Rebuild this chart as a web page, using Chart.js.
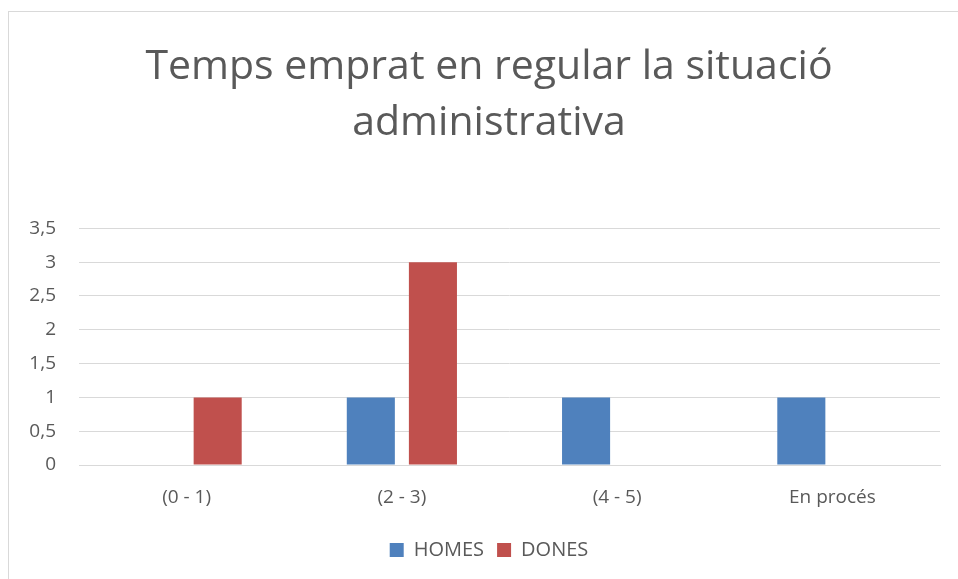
<!DOCTYPE html>
<html>
<head>
<meta charset="utf-8">
<script src="https://cdn.jsdelivr.net/npm/chart.js@4"></script>
<style>
  html, body { margin: 0; padding: 0; background: #fff; overflow: hidden; }
  #frame {
    position: absolute; left: 8px; top: 11px;
    width: 960px; height: 580px;
    border-left: 1px solid #d9d9d9; border-top: 1px solid #d9d9d9;
  }
  #frame canvas { display: block; }
</style>
</head>
<body>
<div id="frame"><canvas id="chart" width="960" height="568"></canvas></div>
<script>
// values
const categories = ['(0 - 1)', '(2 - 3)', '(4 - 5)', 'En procés'];
const homes = [0, 1, 1, 1];
const dones = [1, 3, 0, 0];
const titleLines = ['Temps emprat en regular la situació', 'administrativa'];

const textColor = '#595959';
const gridColor = '#d9d9d9';
const fontFamily = "'Open Sans', 'Noto Sans', sans-serif";

const ctx = document.getElementById('chart').getContext('2d');
new Chart(ctx, {
    type: 'bar',
    data: {
        labels: categories,
        datasets: [
            { label: 'HOMES', data: homes, backgroundColor: '#4F81BD' },
            { label: 'DONES', data: dones, backgroundColor: '#C0504D' }
        ]
    },
    options: {
        responsive: false,
        animation: false,
        categoryPercentage: 0.577,
        barPercentage: 0.774,
        layout: { padding: { left: 0, right: 0, top: 0, bottom: 10 } },
        plugins: {
            title: {
                display: true,
                text: titleLines,
                color: textColor,
                font: { family: fontFamily, size: 41, weight: 'normal', lineHeight: 1.37 },
                padding: { top: 27, bottom: 77 }
            },
            legend: {
                position: 'bottom',
                labels: {
                    color: textColor,
                    font: { family: fontFamily, size: 20 },
                    boxWidth: 14,
                    boxHeight: 14,
                    padding: 13
                }
            },
            tooltip: { enabled: false }
        },
        scales: {
            x: {
                grid: { display: false, drawTicks: false },
                border: { display: true, color: gridColor },
                ticks: { color: textColor, font: { family: fontFamily, size: 19 }, padding: 21 },
                afterFit: (scale) => { scale.height = 62; }
            },
            y: {
                min: 0,
                max: 3.5,
                grid: { color: gridColor, drawTicks: false },
                border: { display: false },
                ticks: {
                    stepSize: 0.5,
                    color: textColor,
                    font: { family: fontFamily, size: 19 },
                    padding: 23,
                    callback: (v) => String(v).replace('.', ',')
                },
                afterFit: (scale) => { scale.width = 70; }
            },
            // empty right-hand axis: keeps the plot off the right edge while the title stays centred on the frame
            y2: {
                position: 'right',
                display: true,
                grid: { display: false, drawTicks: false },
                border: { display: false },
                ticks: { display: false },
                afterFit: (scale) => { scale.width = 29; }
            }
        }
    }
});
</script>
</body>
</html>
